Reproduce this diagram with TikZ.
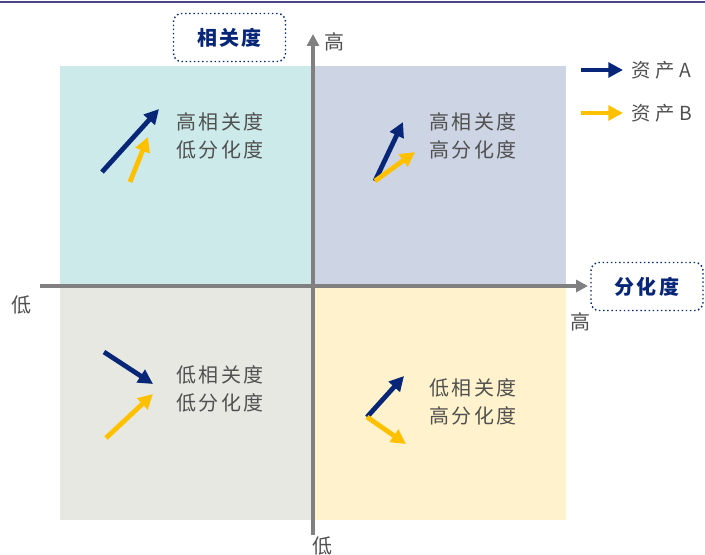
\documentclass[tikz,border=0pt]{standalone}
\usepackage{fontspec}
\setmainfont{Noto Sans CJK SC}
\newfontfamily\cjk[LetterSpace=12]{Noto Sans CJK SC}
\newfontfamily\cjkwide[LetterSpace=25]{Noto Sans CJK SC}
\usepackage{tikz}
\usetikzlibrary{arrows.meta,positioning,calc}
\usepackage{xcolor}
\definecolor{navy}{RGB}{8,38,120}
\definecolor{gold}{RGB}{255,192,0}
\definecolor{axisgray}{RGB}{128,128,128}
\definecolor{txtgray}{RGB}{80,80,80}
\definecolor{topline}{RGB}{74,72,138}
\definecolor{qcyan}{RGB}{205,234,234}
\definecolor{qslate}{RGB}{205,212,228}
\definecolor{qgray}{RGB}{232,232,226}
\definecolor{qyellow}{RGB}{255,242,204}

\begin{document}
\begin{tikzpicture}[
    x=0.75pt, y=-0.75pt,
    quad/.style={rectangle, inner sep=0pt, minimum width=253*0.75pt},
    label/.style={font=\cjk\fontsize{15}{21}\selectfont, text=txtgray, align=center, inner sep=0pt},
    axislabel/.style={font=\cjk\fontsize{15}{17}\selectfont, text=txtgray, inner sep=0pt},
    legendlabel/.style={font=\cjkwide\fontsize{14.5}{17}\selectfont, text=txtgray, inner sep=0pt},
    titlebox/.style={rectangle, rounded corners=6pt, draw=navy, dotted, line width=1.1pt, text=navy, font=\cjk\bfseries\fontsize{15}{18}\selectfont, minimum width=112*0.75pt, minimum height=48*0.75pt},
    axis/.style={draw=axisgray, line width=3pt, -{Triangle[length=9pt,width=9pt]}},
    arrowA/.style={draw=navy, line width=3.6pt, -{Triangle[length=11pt,width=11pt]}},
    arrowB/.style={draw=gold, line width=3.6pt, -{Triangle[length=11pt,width=11pt]}}
]
\useasboundingbox (0,0) rectangle (705,555);

% Top rule
\coordinate (ruleL) at (0,2);
\coordinate (ruleR) at (705,2);
\draw[topline, line width=1.6pt] (ruleL) -- (ruleR);

% Quadrants
\node[quad, fill=qcyan, minimum height=220*0.75pt] (qTL) at (186.5,176.5) {};
\node[quad, fill=qslate, minimum height=220*0.75pt] (qTR) at (439.5,176.5) {};
\node[quad, fill=qgray, minimum height=233*0.75pt] (qBL) at (186.5,403) {};
\node[quad, fill=qyellow, minimum height=233*0.75pt] (qBR) at (439.5,403) {};

% Axes
\coordinate (xstart) at (40,286);
\coordinate (xend) at (588,286);
\coordinate (ystart) at (313,535);
\coordinate (yend) at (313,34);
\draw[axis] (xstart) -- (xend);
\draw[axis] (ystart) -- (yend);

\node[axislabel] (yhigh) at (334,42) {高};
\node[axislabel] (ylow) at (322,546) {低};
\node[axislabel] (xlow) at (22,305) {低};
\node[axislabel] (xhigh) at (580,322) {高};

% Axis titles
\node[titlebox] (corr) at (229.5,37.5) {相关度};
\node[titlebox] (diff) at (647,286.5) {分化度};

% Legend
\coordinate (legA1) at (581,70);
\coordinate (legA2) at (623,70);
\coordinate (legB1) at (581,113);
\coordinate (legB2) at (623,113);
\draw[arrowA, line width=3.2pt] (legA1) -- (legA2);
\draw[arrowB, line width=3.2pt] (legB1) -- (legB2);
\node[legendlabel, right=6pt of legA2] (legAtxt) {资产A};
\node[legendlabel, right=6pt of legB2] (legBtxt) {资产B};

% Quadrant texts
\node[label] (tTL) at (220,136) {高相关度\\低分化度};
\node[label] (tTR) at (473,136) {高相关度\\高分化度};
\node[label] (tBL) at (220,389) {低相关度\\低分化度};
\node[label] (tBR) at (473,402) {低相关度\\高分化度};

% Asset arrows
\coordinate (tlA1) at (102,172);
\coordinate (tlA2) at (159,109);
\coordinate (tlB1) at (130,182);
\coordinate (tlB2) at (148,137);
\draw[arrowA] (tlA1) -- (tlA2);
\draw[arrowB] (tlB1) -- (tlB2);

\coordinate (trO) at (375,181);
\coordinate (trA2) at (403,122);
\coordinate (trB2) at (415,152);
\draw[arrowA] (trO) -- (trA2);
\draw[arrowB] (trO) -- (trB2);

\coordinate (blA1) at (104,352);
\coordinate (blA2) at (153,384);
\coordinate (blB1) at (106,438);
\coordinate (blB2) at (153,394);
\draw[arrowA] (blA1) -- (blA2);
\draw[arrowB] (blB1) -- (blB2);

\coordinate (brO) at (367,417);
\coordinate (brA2) at (404,376);
\coordinate (brB2) at (406,444);
\draw[arrowA] (brO) -- (brA2);
\draw[arrowB] (brO) -- (brB2);

\end{tikzpicture}
\end{document}
